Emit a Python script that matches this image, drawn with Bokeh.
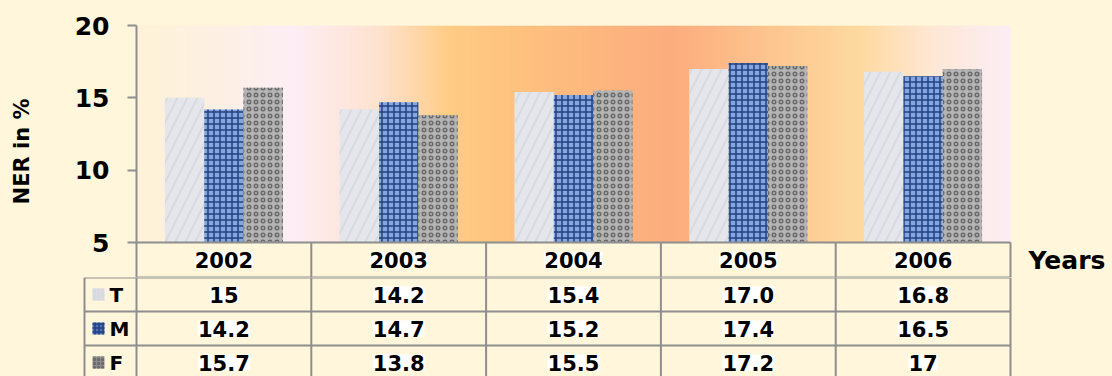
import numpy as np
from bokeh.plotting import figure
from bokeh.layouts import column
from bokeh.models import Range1d, FixedTicker
from bokeh.core.properties import value
from bokeh.embed import file_html
from bokeh.resources import INLINE

# ---------------- data ----------------
years = ["2002", "2003", "2004", "2005", "2006"]
series = ["T", "M", "F"]
T_labels = ["15", "14.2", "15.4", "17.0", "16.8"]
M_labels = ["14.2", "14.7", "15.2", "17.4", "16.5"]
F_labels = ["15.7", "13.8", "15.5", "17.2", "17"]
y_ticks = [5, 10, 15, 20]
y_label = "NER in %"
x_label = "Years"

table_labels = [T_labels, M_labels, F_labels]
values = [[float(s) for s in labs] for labs in table_labels]

# ---------------- style ----------------
FONT = "DejaVu Sans"
CREAM = "#FFF6DB"
LINE = "#8E8E8E"
W = 1112
X0 = 136            # frame left (px)
CAT_W = 174.8       # px per category
PPU = 217 / 15      # px per value unit
ROW = 35            # header row height (px)
ROW2 = 34           # body row height (px)
TOP = 25
H1 = 277
H2 = 99
BAR_W = 39.3 / CAT_W
Y_MIN, Y_MAX = 5, 20

bar_styles = [
    dict(fill_color="#E4E6EB", hatch_pattern="/", hatch_color="#D8DADF", hatch_scale=20, hatch_weight=2),
    dict(fill_color="#84A6E0", hatch_pattern="+", hatch_color="#23407F", hatch_scale=6, hatch_weight=1.5),
    dict(fill_color="#B4B4B4", hatch_pattern="o", hatch_color="#6A6A6A", hatch_scale=7, hatch_weight=1.5),
]
swatch_colors = ["#E0E2E6", "#4E73BA", "#8F8F8F"]

n = len(years)
centers = [i + 0.5 for i in range(n)]
x_end = (W - X0) / CAT_W
y_start = Y_MIN - ROW / PPU

# ---------------- chart ----------------
p = figure(width=W, height=H1, x_range=Range1d(0, x_end), y_range=Range1d(y_start, Y_MAX),
           output_backend="svg", toolbar_location=None, x_axis_location=None,
           min_border_left=X0, min_border_right=0, min_border_top=TOP, min_border_bottom=0,
           frame_align=False)
p.background_fill_color = CREAM
p.border_fill_color = CREAM
p.outline_line_color = None
p.grid.visible = False

# gradient plot area (decoration)
stop_px = np.array([136, 210, 290, 380, 450, 530, 670, 760, 860, 930, 1010], dtype=float)
stop_rgb = np.array([
    [0xFF, 0xF3, 0xD8], [0xFE, 0xF0, 0xE2], [0xFD, 0xEE, 0xF6], [0xFE, 0xE2, 0xCE],
    [0xFE, 0xCC, 0x84], [0xFE, 0xC0, 0x7E], [0xFC, 0xAD, 0x7E], [0xFD, 0xC3, 0x8E],
    [0xFE, 0xDA, 0xA0], [0xFE, 0xE7, 0xD4], [0xFC, 0xEE, 0xF6]], dtype=float)
N = 600
gx = np.linspace(136, 1010, N)
img = np.empty((1, N), dtype=np.uint32)
view = img.view(dtype=np.uint8).reshape((1, N, 4))
for c in range(3):
    view[0, :, c] = np.interp(gx, stop_px, stop_rgb[:, c]).astype(np.uint8)
view[0, :, 3] = 255
p.image_rgba(image=[img], x=0, y=Y_MIN, dw=n, dh=Y_MAX - Y_MIN)

# bars
for k, (vals, st) in enumerate(zip(values, bar_styles)):
    xs = [c + (k - 1) * BAR_W for c in centers]
    p.vbar(x=xs, top=vals, bottom=Y_MIN, width=BAR_W, line_color=None, **st)

# y axis
ax = p.yaxis[0]
ax.ticker = FixedTicker(ticks=y_ticks)
ax.axis_label = y_label
ax.axis_line_color = LINE
ax.axis_line_width = 2
ax.major_tick_line_color = LINE
ax.major_tick_line_width = 2
ax.major_tick_out = 9
ax.major_tick_in = 0
ax.minor_tick_line_color = None
ax.major_label_standoff = 18
ax.major_label_text_font = FONT
ax.major_label_text_font_style = "bold"
ax.major_label_text_font_size = "25px"
ax.major_label_text_color = "black"
ax.axis_label_text_font = FONT
ax.axis_label_text_font_style = "bold"
ax.axis_label_text_font_size = "21px"
ax.axis_label_text_color = "black"
ax.axis_label_standoff = 38

# header row of table
p.segment(x0=[0, 0], y0=[Y_MIN, y_start], x1=[n, n], y1=[Y_MIN, y_start], line_color=LINE, line_width=2)
p.segment(x0=list(range(1, n + 1)), y0=[Y_MIN] * n, x1=list(range(1, n + 1)), y1=[y_start] * n,
          line_color=LINE, line_width=2)
hy = (Y_MIN + y_start) / 2
p.text(x=centers, y=[hy] * n, text=years, text_font=value(FONT), text_font_style="bold",
       text_font_size="21px", text_align="center", text_baseline="middle", text_color="black",
       background_fill_color="white")
p.text(x=[(1028 - X0) / CAT_W], y=[hy], text=[x_label], text_font=value(FONT), text_font_style="bold",
       text_font_size="25px", text_align="left", text_baseline="middle", text_color="black")

# ---------------- table rows ----------------
t = figure(width=W, height=H2, x_range=Range1d(-X0 / CAT_W, x_end), y_range=Range1d(-H2 / ROW2, 0),
           output_backend="svg", toolbar_location=None, x_axis_location=None, y_axis_location=None,
           min_border_left=0, min_border_right=0, min_border_top=0, min_border_bottom=0,
           frame_align=False)
t.background_fill_color = CREAM
t.border_fill_color = CREAM
t.outline_line_color = None
t.grid.visible = False

leg_x0 = (84 - X0) / CAT_W
rows = len(series)
t.segment(x0=[leg_x0] * rows, y0=[-r for r in range(rows)], x1=[n] * rows, y1=[-r for r in range(rows)],
          line_color=LINE, line_width=2)
vx = [leg_x0] + list(range(0, n + 1))
t.segment(x0=vx, y0=[0] * len(vx), x1=vx, y1=[-H2 / ROW2] * len(vx), line_color=LINE, line_width=2)

for r, (name, labs) in enumerate(zip(series, table_labels)):
    yc = -(r + 0.5)
    st = dict(bar_styles[r])
    st["fill_color"] = swatch_colors[r]
    st["hatch_scale"] = 4
    t.rect(x=[(98 - X0) / CAT_W], y=[yc], width=12 / CAT_W, height=12 / ROW2, line_color=None, **st)
    t.text(x=[(109 - X0) / CAT_W], y=[yc], text=[name], text_font=value(FONT), text_font_style="bold",
           text_font_size="20px", text_align="left", text_baseline="middle", text_color="black")
    t.text(x=centers, y=[yc] * n, text=labs, text_font=value(FONT), text_font_style="bold",
           text_font_size="21px", text_align="center", text_baseline="middle", text_color="black",
           background_fill_color="white")

layout = column(p, t, spacing=0)
html = file_html(layout, INLINE)
html = html.replace("<head>", "<head><style>body{background:%s;}</style>" % CREAM, 1)
open("out.html", "w").write(html)
